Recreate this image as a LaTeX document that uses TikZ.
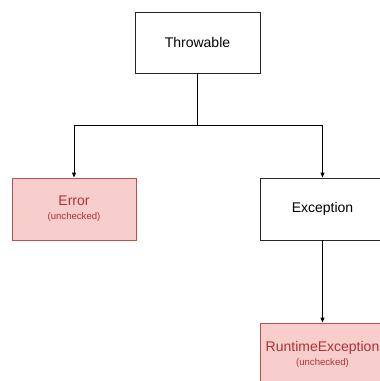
\documentclass[tikz,border=0pt]{standalone}
\usepackage{fontspec}
\setmainfont{Liberation Sans}
\usetikzlibrary{arrows.meta}
\definecolor{errfill}{HTML}{F8CECC}
\definecolor{errline}{HTML}{B85450}
\definecolor{errtext}{HTML}{B03035}
\tikzset{
  plainbox/.style={draw=black!85, line width=0.9pt, fill=white, inner sep=0pt,
    minimum width=124pt, minimum height=62pt, font=\fontsize{14}{16}\selectfont},
  uncheckedbox/.style={plainbox, draw=errline, fill=errfill, text=errtext, align=center},
  link/.style={draw=black, line width=0.9pt, -{Triangle[length=5pt,width=4pt]}}
}
\newcommand{\uncheckedlabel}[1]{#1\\[-2pt]{\fontsize{9.6}{11}\selectfont (unchecked)}}
\begin{document}
\begin{tikzpicture}[x=1pt,y=-1pt]
  \useasboundingbox (0,0) rectangle (380,381);
  \clip (0,0) rectangle (380,381);
  \fill[white] (0,0) rectangle (380,381);

  \node[plainbox, minimum width=125pt, minimum height=61pt] (thr) at (197.5,42.5) {Throwable};
  \node[uncheckedbox] (err) at (74,209) {\uncheckedlabel{Error}};
  \node[plainbox] (exc) at (322.5,209) {Exception};
  \node[uncheckedbox] (rte) at (322.5,354) {\uncheckedlabel{RuntimeException}};

  \coordinate (split) at (thr.south |- 0,125);
  \draw[line width=0.9pt] (thr.south) -- (split);
  \draw[link] (split) -| (err.north);
  \draw[link] (split) -| (exc.north);
  \draw[link] (exc.south) -- (rte.north);
\end{tikzpicture}
\end{document}
